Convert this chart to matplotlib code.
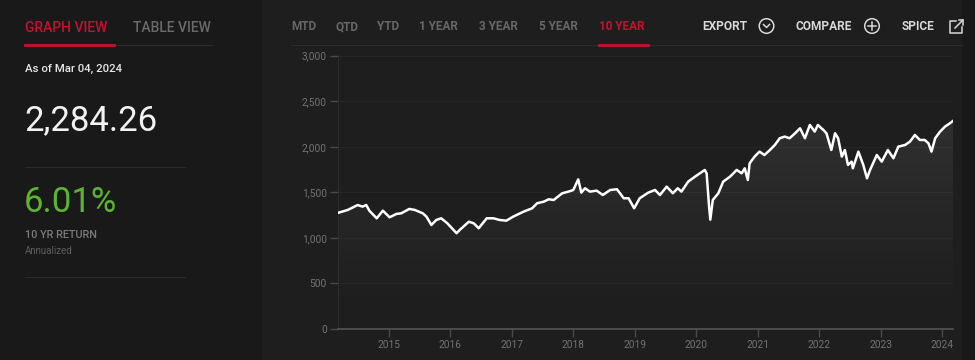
import matplotlib.pyplot as plt
import numpy as np
from matplotlib.patches import Circle, Rectangle, Polygon
from matplotlib.lines import Line2D

plt.rcParams['font.family'] = ['Roboto', 'DejaVu Sans']

# index level (decimal year, value)
years = [2014.17, 2014.33, 2014.49, 2014.57, 2014.63, 2014.68, 2014.80, 2014.90,
         2015.01, 2015.12, 2015.20, 2015.33, 2015.42, 2015.55, 2015.61, 2015.69,
         2015.77, 2015.85, 2015.95, 2016.10, 2016.15, 2016.30, 2016.38, 2016.46,
         2016.59, 2016.70, 2016.80, 2016.91, 2017.02, 2017.19, 2017.33, 2017.41,
         2017.52, 2017.60, 2017.68, 2017.82, 2017.92, 2018.00, 2018.08, 2018.13,
         2018.19, 2018.27, 2018.38, 2018.48, 2018.60, 2018.71, 2018.76, 2018.82,
         2018.90, 2018.99, 2019.08, 2019.22, 2019.33, 2019.41, 2019.52, 2019.62,
         2019.70, 2019.76, 2019.87, 2019.98, 2020.06, 2020.14, 2020.17, 2020.21,
         2020.23, 2020.27, 2020.36, 2020.44, 2020.55, 2020.66, 2020.74, 2020.79,
         2020.84, 2020.87, 2020.95, 2021.03, 2021.11, 2021.20, 2021.28, 2021.36,
         2021.44, 2021.52, 2021.61, 2021.69, 2021.77, 2021.85, 2021.93, 2021.98,
         2022.07, 2022.12, 2022.20, 2022.26, 2022.31, 2022.37, 2022.42, 2022.47,
         2022.53, 2022.55, 2022.64, 2022.72, 2022.78, 2022.83, 2022.94, 2023.02,
         2023.12, 2023.21, 2023.29, 2023.40, 2023.48, 2023.56, 2023.64, 2023.72,
         2023.78, 2023.83, 2023.89, 2023.97, 2024.05, 2024.13, 2024.18]
values = [1275, 1307, 1361, 1343, 1361, 1299, 1215, 1299,
          1226, 1263, 1270, 1318, 1307, 1270, 1233, 1142,
          1197, 1215, 1160, 1051, 1087, 1178, 1160, 1106,
          1215, 1215, 1197, 1189, 1233, 1288, 1325, 1380,
          1398, 1424, 1416, 1490, 1508, 1526, 1643, 1497,
          1545, 1508, 1519, 1471, 1526, 1534, 1490, 1435,
          1435, 1325, 1435, 1497, 1526, 1471, 1563, 1490,
          1545, 1508, 1618, 1672, 1709, 1746, 1709, 1343,
          1200, 1416, 1490, 1618, 1672, 1746, 1709, 1764,
          1636, 1819, 1892, 1947, 1910, 1965, 2020, 2094,
          2112, 2094, 2149, 2203, 2094, 2240, 2167, 2240,
          2185, 2149, 1965, 2149, 2094, 1892, 1965, 1801,
          1837, 1764, 1947, 1801, 1654, 1746, 1910, 1837,
          1965, 1874, 2002, 2020, 2057, 2130, 2075, 2075,
          2039, 1947, 2094, 2167, 2222, 2258, 2284.26]

x_ticks = list(range(2015, 2025))
y_ticks = [0, 500, 1000, 1500, 2000, 2500, 3000]
periods = ['MTD', 'QTD', 'YTD', '1 YEAR', '3 YEAR', '5 YEAR', '10 YEAR']
period_x = [291, 336, 377, 419, 479, 539, 599]

RED = '#c8102e'
W, H = 975, 360
fig = plt.figure(figsize=(W / 100, H / 100), dpi=100)
fig.patch.set_facecolor('#191919')

# overlay in pixel units for the page chrome
bg = fig.add_axes([0, 0, 1, 1], zorder=0)
bg.set_xlim(0, W)
bg.set_ylim(H, 0)
bg.axis('off')
bg.add_patch(Rectangle((262, 0), 700, H, color='#1e1e1e', lw=0))

def txt(x, y, s, **kw):
    bg.text(x, y, s, va='center', ha='left', **kw)

txt(25, 28, 'GRAPH VIEW', color=RED, fontsize=10, fontweight='medium')
txt(133, 28, 'TABLE VIEW', color='#6a6a6a', fontsize=10, fontweight='medium')
bg.add_line(Line2D([25, 212], [44.5, 44.5], color='#2c2c2c', lw=0.8))
bg.add_line(Line2D([25, 114], [44.5, 44.5], color=RED, lw=2))
txt(25, 69, 'As of Mar 04, 2024', color='#e6e6e6', fontsize=8.2, fontweight='medium')
txt(24, 121, '2,284.26', color='#f2f2f2', fontsize=25)
bg.add_line(Line2D([25, 185], [167, 167], color='#2a2a2a', lw=0.8))
txt(24, 203, '6.01%', color='#5cb531', fontsize=25)
txt(25, 235, '10 YR RETURN', color='#7a7a7a', fontsize=7.8, fontweight='medium')
txt(25, 251, 'Annualized', color='#5e5e5e', fontsize=7)
bg.add_line(Line2D([25, 185], [277, 277], color='#2a2a2a', lw=0.8))

for p, px in zip(periods, period_x):
    col = RED if p == '10 YEAR' else '#676767'
    txt(px, 27, p, color=col, fontsize=8.5, fontweight='bold')
bg.add_line(Line2D([291, 962], [44.5, 44.5], color='#2c2c2c', lw=0.8))
bg.add_line(Line2D([599, 648], [44.5, 44.5], color=RED, lw=2))

icon = '#d8d8d8'
txt(702, 26, 'EXPORT', color=icon, fontsize=8.6, fontweight='bold')
bg.add_patch(Circle((766.5, 26), 7.3, fill=False, ec=icon, lw=1.1))
bg.add_line(Line2D([763.5, 766.5, 769.5], [24.5, 27.5, 24.5], color=icon, lw=1.1))
txt(796, 26, 'COMPARE', color=icon, fontsize=8.6, fontweight='bold')
bg.add_patch(Circle((872, 26), 7.3, fill=False, ec=icon, lw=1.1))
bg.add_line(Line2D([868, 876], [26, 26], color=icon, lw=1.1))
bg.add_line(Line2D([872, 872], [22, 30], color=icon, lw=1.1))
txt(902, 26, 'SPICE', color=icon, fontsize=8.6, fontweight='bold')
bg.add_line(Line2D([956, 950, 950, 962, 962], [20.5, 20.5, 32.5, 32.5, 27], color=icon, lw=1.1))
bg.add_line(Line2D([955, 963], [28, 20], color=icon, lw=1.1))
bg.add_line(Line2D([958.5, 963, 963], [20, 20, 24.5], color=icon, lw=1.1))

# chart
ax = fig.add_axes([338 / W, 31 / H, 615 / W, 273.3 / H], zorder=1)
ax.patch.set_alpha(0)
ax.set_xlim(years[0], years[-1])
ax.set_ylim(0, 3000)

# gradient fill under the line
grad = np.linspace(0, 1, 256) ** 1.3
rgba = np.ones((256, 1, 4))
rgba[:, 0, 3] = grad * 0.12
im = ax.imshow(rgba, extent=[years[0], years[-1], 0, 3000], origin='lower',
               aspect='auto', zorder=1)
verts = [(years[0], 0)] + list(zip(years, values)) + [(years[-1], 0)]
poly = Polygon(verts, closed=True, facecolor='none', edgecolor='none')
ax.add_patch(poly)
im.set_clip_path(poly)

ax.plot(years, values, color='white', lw=1.8, zorder=3, solid_joinstyle='round')

for y in y_ticks[1:]:
    ax.axhline(y, color='#262626', lw=0.8, zorder=0)

ax.set_xticks(x_ticks)
ax.set_xticklabels([str(x) for x in x_ticks])
ax.set_yticks(y_ticks)
ax.set_yticklabels([f'{v:,}' for v in y_ticks])
ax.tick_params(axis='both', colors='#4a4a4a', labelcolor='#737373',
               labelsize=7.3, length=6, width=1, pad=2)
for s in ['top', 'right']:
    ax.spines[s].set_visible(False)
ax.spines['left'].set_color('#2e2e2e')
ax.spines['bottom'].set_color('#555555')
ax.spines['bottom'].set_linewidth(1.2)

fig.savefig('out.png', dpi=100, facecolor=fig.get_facecolor())
